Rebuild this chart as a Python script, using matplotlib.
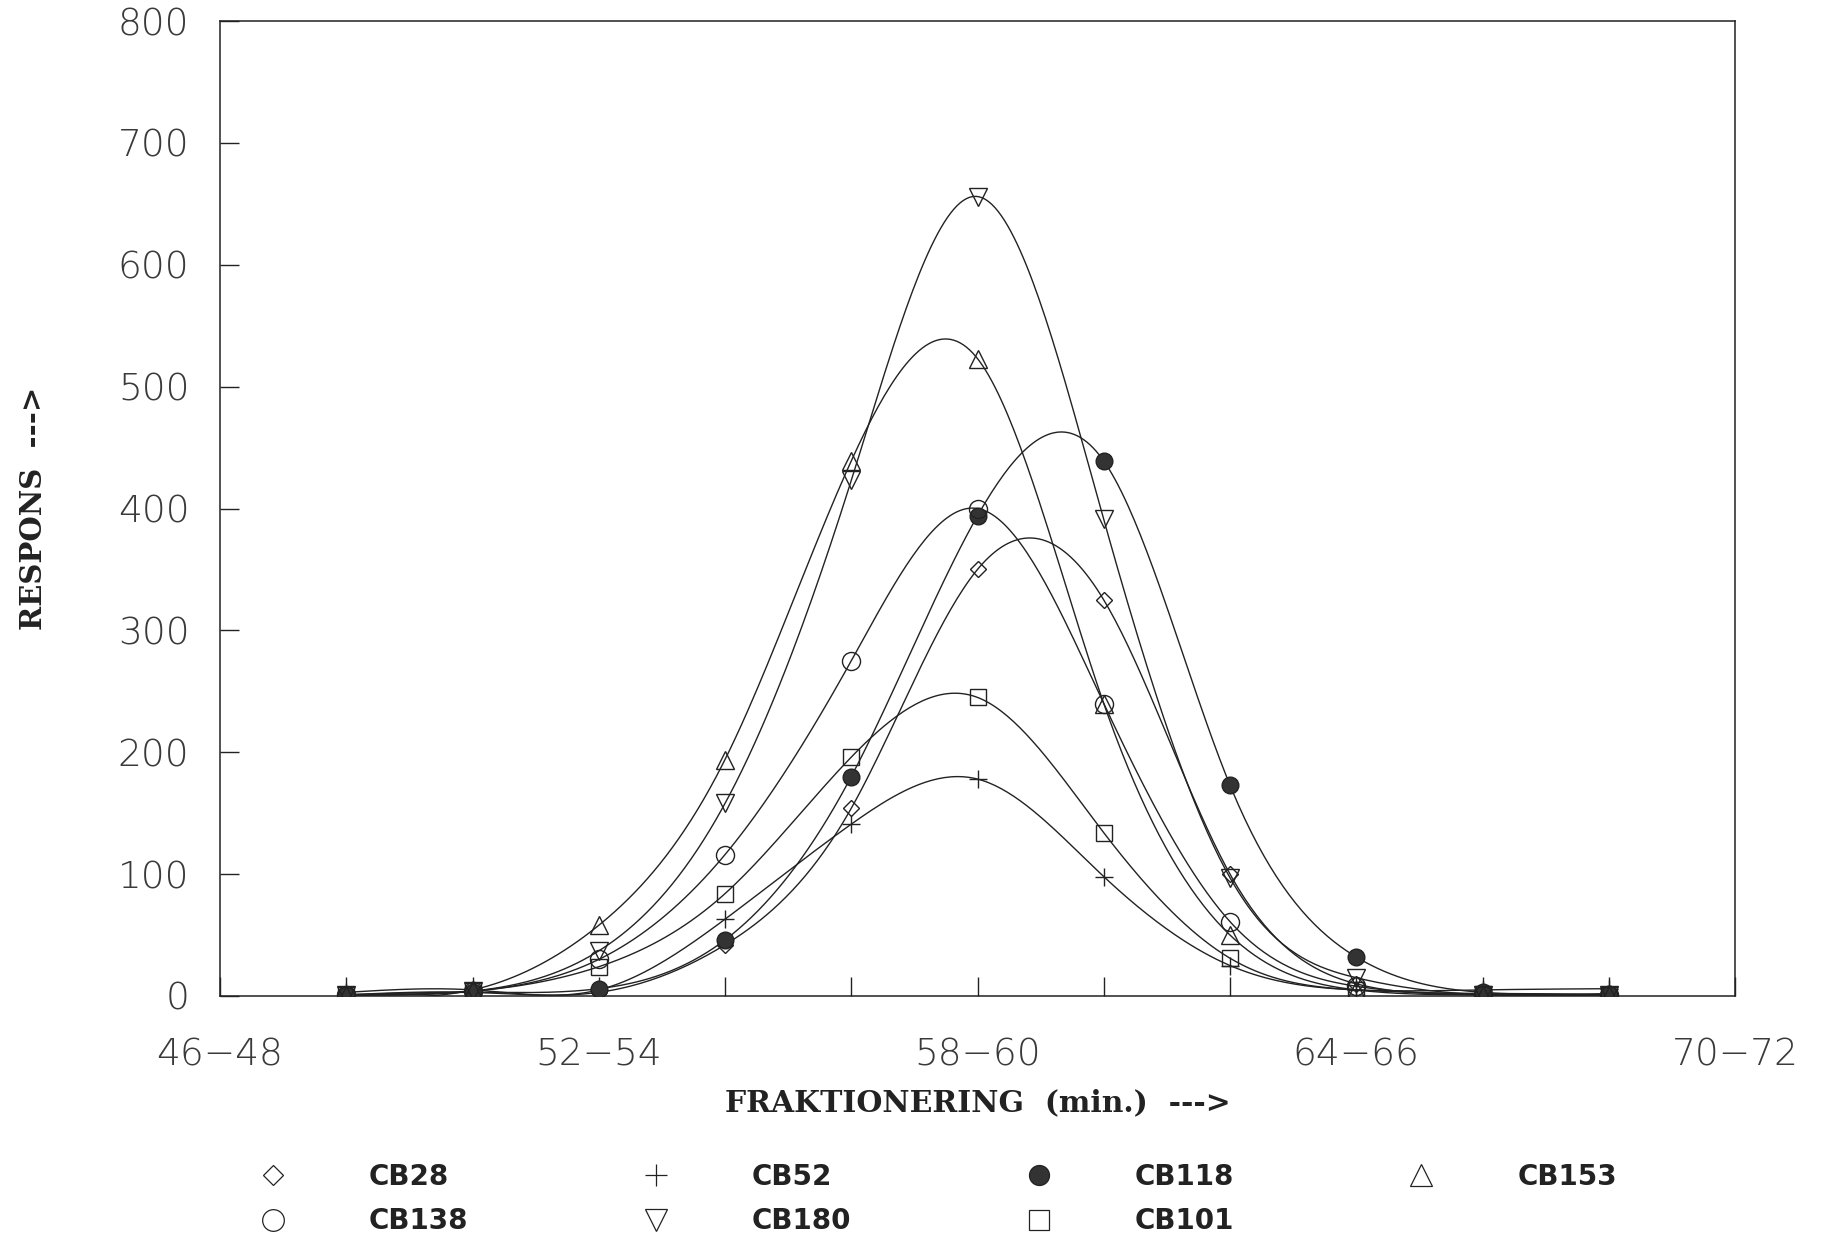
import numpy as np
import matplotlib
matplotlib.use("Agg")
import matplotlib.pyplot as plt
from matplotlib.lines import Line2D

# fraction labels (2 min fractions), data sits at index 1..11
fractions = ["46-48", "48-50", "50-52", "52-54", "54-56", "56-58", "58-60",
             "60-62", "62-64", "64-66", "66-68", "68-70", "70-72"]
major_labels = ["46\u221248", "52\u221254", "58\u221260", "64\u221266", "70\u221272"]
data_pos = list(range(1, 12))

cb28 = [1, 3, 3, 42, 154, 350, 325, 100, 10, 2, 1]
cb52 = [3, 5, 5, 63, 141, 178, 98, 25, 5, 5, 6]
cb118 = [1, 3, 6, 46, 180, 394, 439, 173, 32, 3, 2]
cb153 = [1, 5, 58, 194, 439, 523, 240, 50, 5, 1, 1]
cb138 = [1, 4, 30, 116, 275, 400, 240, 61, 8, 1, 1]
cb180 = [1, 4, 37, 158, 423, 656, 391, 97, 15, 1, 1]
cb101 = [1, 4, 24, 84, 196, 245, 134, 31, 5, 2, 1]


def natural_spline(x, y, n=400):
    """Natural cubic spline through the points, for the smooth curves."""
    x = np.asarray(x, float)
    y = np.asarray(y, float)
    m = len(x)
    h = np.diff(x)
    A = np.zeros((m, m))
    r = np.zeros(m)
    A[0, 0] = 1
    A[-1, -1] = 1
    for i in range(1, m - 1):
        A[i, i - 1] = h[i - 1]
        A[i, i] = 2 * (h[i - 1] + h[i])
        A[i, i + 1] = h[i]
        r[i] = 6 * ((y[i + 1] - y[i]) / h[i] - (y[i] - y[i - 1]) / h[i - 1])
    M = np.linalg.solve(A, r)
    xs = np.linspace(x[0], x[-1], n)
    k = np.clip(np.searchsorted(x, xs) - 1, 0, m - 2)
    t0 = x[k + 1] - xs
    t1 = xs - x[k]
    hk = h[k]
    ys = (M[k] * t0 ** 3 + M[k + 1] * t1 ** 3) / (6 * hk) \
        + (y[k] / hk - M[k] * hk / 6) * t0 + (y[k + 1] / hk - M[k + 1] * hk / 6) * t1
    return xs, ys


series = [
    ("CB28", cb28, "D", 8.6, "none"),
    ("CB52", cb52, "+", 13, "none"),
    ("CB118", cb118, "o", 12, "#333333"),
    ("CB153", cb153, "^", 13, "none"),
    ("CB138", cb138, "o", 13, "none"),
    ("CB180", cb180, "v", 13, "none"),
    ("CB101", cb101, "s", 12, "none"),
]

ink = "#222222"
fig = plt.figure(figsize=(18.38, 12.45), dpi=100)
ax = fig.add_axes([220 / 1838, 1 - 996 / 1245, 1515 / 1838, 975 / 1245])

handles = {}
for name, vals, mk, ms, fc in series:
    xs, ys = natural_spline(data_pos, vals)
    ax.plot(xs, ys, color=ink, lw=1.0, zorder=2)
    ax.plot(data_pos, vals, linestyle="none", marker=mk, markersize=ms, mfc=fc,
            mec=ink, mew=1.0, zorder=3)
    # legend symbols are drawn a bit larger than the plot markers
    handles[name] = Line2D([], [], linestyle="none", marker=mk, markersize=ms * 1.2,
                           mfc=fc, mec=ink, mew=0.9)

ax.set_xlim(0, 12)
ax.set_ylim(0, 800)
ax.set_xticks([0, 3, 6, 9, 12])
ax.set_xticklabels(major_labels)
ax.set_xticks(data_pos, minor=True)
ax.set_yticks(range(0, 801, 100))

for lab in ax.get_xticklabels() + ax.get_yticklabels():
    lab.set_fontfamily("DejaVu Sans")
    lab.set_fontsize(27)
    lab.set_fontweight("light")
    lab.set_color("#3a3a3a")

ax.tick_params(axis="both", which="both", direction="in", length=14, width=1.0, color=ink)
ax.tick_params(axis="x", which="both", pad=30, top=False)
ax.tick_params(axis="y", pad=22, right=False)
for sp in ax.spines.values():
    sp.set_linewidth(1.1)
    sp.set_color(ink)

ax.set_ylabel("RESPONS  --->", family="DejaVu Serif", weight="bold", fontsize=21,
              color=ink, labelpad=50)
ax.set_xlabel("FRAKTIONERING  (min.)  --->", family="DejaVu Serif", weight="bold",
              fontsize=21.5, color=ink, labelpad=11)

order = ["CB28", "CB138", "CB52", "CB180", "CB118", "CB101", "CB153"]
leg = fig.legend([handles[n] for n in order], order, ncol=4, loc="center",
                 bbox_to_anchor=(938 / 1838, 1 - 1199 / 1245), frameon=False,
                 prop=dict(family="DejaVu Sans", weight="bold", size=20),
                 handlelength=1.0, handletextpad=2.95, columnspacing=6.25,
                 labelspacing=0.6, borderpad=0)
for t in leg.get_texts():
    t.set_color(ink)

fig.savefig("out.png", dpi=100)
